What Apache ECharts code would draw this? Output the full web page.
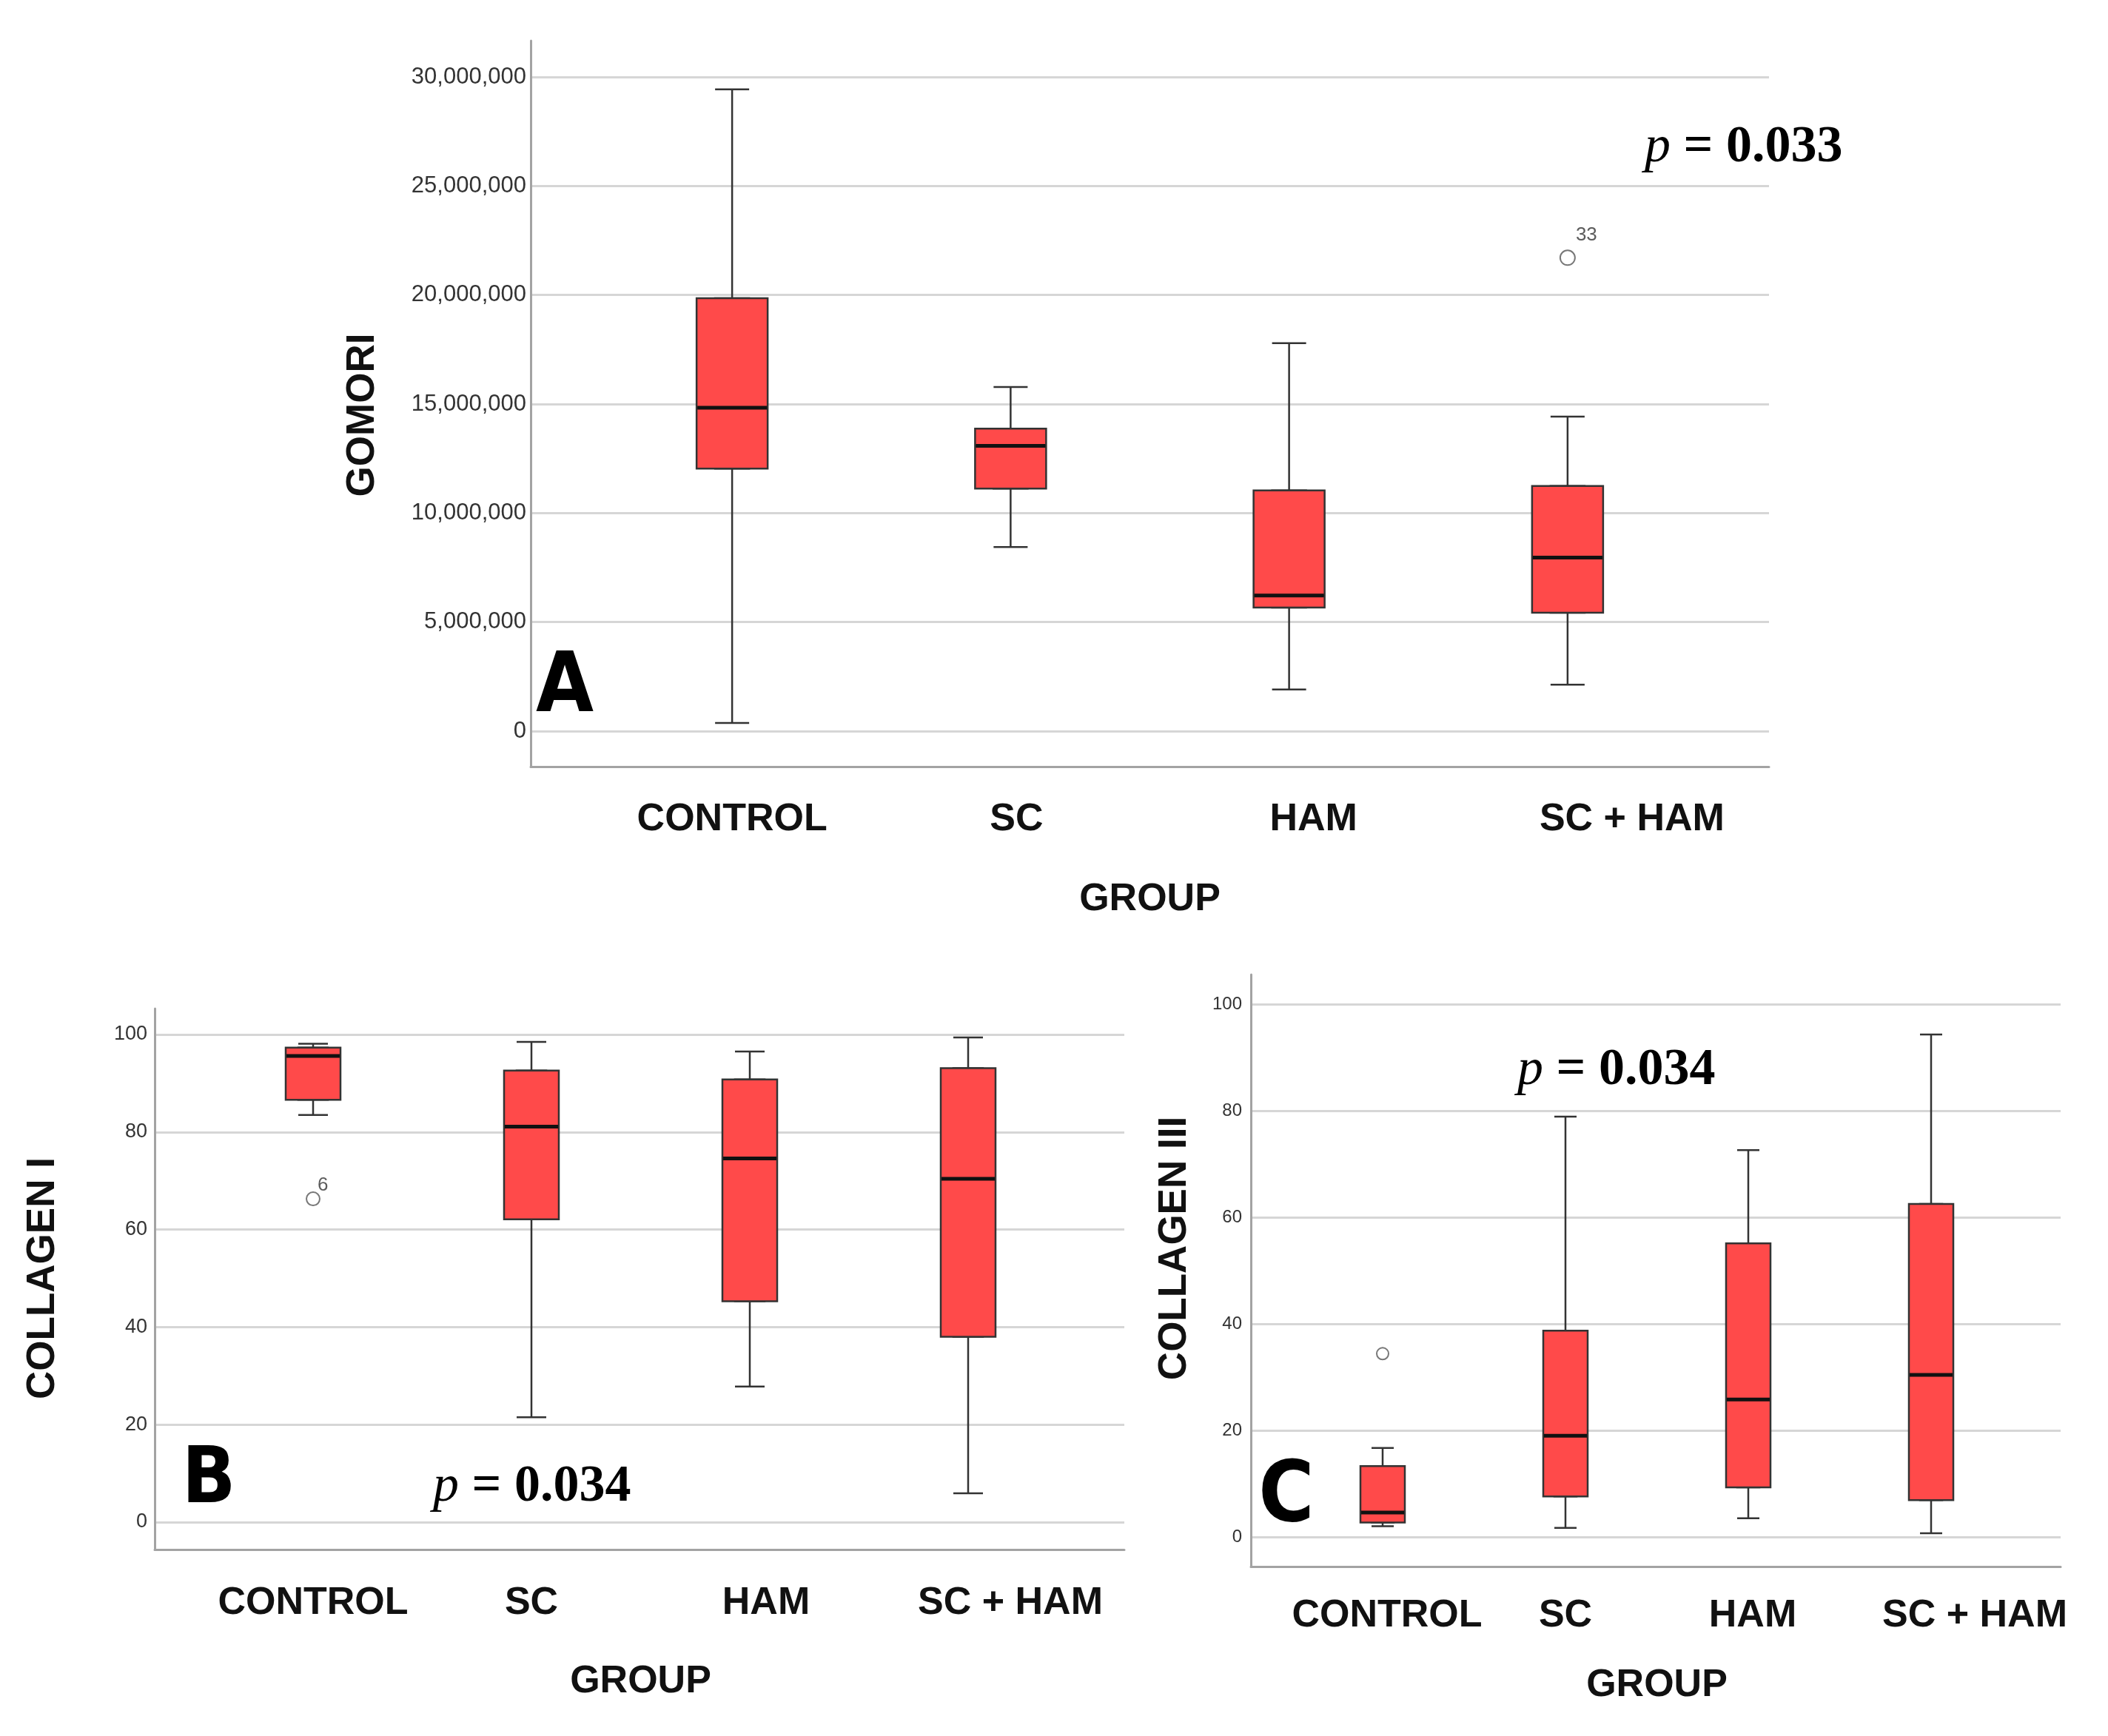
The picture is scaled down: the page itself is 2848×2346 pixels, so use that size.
<!DOCTYPE html>
<html>
<head>
<meta charset="utf-8">
<script src="https://cdn.jsdelivr.net/npm/echarts@6/dist/echarts.min.js"></script>
<style>
  html, body { margin: 0; padding: 0; background: #fff; }
  #main { width: 2848px; height: 2346px; }
</style>
</head>
<body>
<div id="main"></div>
<script>
// groups on the x axis (same in all three panels)
var groups = ['CONTROL', 'SC', 'HAM', 'SC + HAM'];

// box stats: [lower whisker, Q1, median, Q3, upper whisker]
var gomoriBoxes = [
    [370000, 12040000, 14830000, 19850000, 29430000],
    [8440000, 11120000, 13080000, 13870000, 15780000],
    [1910000, 5670000, 6220000, 11040000, 17790000],
    [2130000, 5430000, 7960000, 11240000, 14420000]
];
// outliers: [group index, value, case label]
var gomoriOutliers = [[3, 21710000, '33']];

var col1Boxes = [
    [83.5, 86.6, 95.6, 97.3, 98.1],
    [21.5, 62.1, 81.1, 92.6, 98.5],
    [27.8, 45.3, 74.6, 90.8, 96.5],
    [5.9, 38.0, 70.4, 93.1, 99.4]
];
var col1Outliers = [[0, 66.3, '6']];

var col3Boxes = [
    [2.0, 2.7, 4.6, 13.3, 16.7],
    [1.7, 7.6, 19.0, 38.7, 78.9],
    [3.5, 9.3, 25.8, 55.1, 72.6],
    [0.7, 6.9, 30.4, 62.5, 94.3]
];
var col3Outliers = [[0, 34.4, '']];

var gomoriMax = 30000000, gomoriStep = 5000000;
var collagenMax = 100, collagenStep = 20;

var pValues = ['0.033', '0.034', '0.034'];

// panel layout (pixels)
var panels = [
    {
        boxes: gomoriBoxes, outliers: gomoriOutliers, max: gomoriMax, step: gomoriStep,
        yName: 'GOMORI', letter: 'A', p: pValues[0],
        frame: { left: 717, top: 55, width: 1673, height: 981 },
        vals: { top: 104, height: 884 },
        box: { left: 801, width: 1505 },
        tickSize: 31, tickMargin: 6, boxW: 96, capW: 46, outSize: 20,
        yNameGap: 200, yNamePad: [0, 30, 0, 0],
        labMargin: 94, labShift: [0, 8, 33, 87], xNameGap: 202,
        letterPos: [763, 932], letterSize: 112, pPos: [2222, 200],
        outLabOffset: [-2, -30]
    },
    {
        boxes: col1Boxes, outliers: col1Outliers, max: collagenMax, step: collagenStep,
        yName: 'COLLAGEN I', letter: 'B', p: pValues[1],
        frame: { left: 209, top: 1363, width: 1310, height: 731 },
        vals: { top: 1398, height: 659 },
        box: { left: 275.5, width: 1180 },
        tickSize: 27, tickMargin: 10, boxW: 74, capW: 40, outSize: 18,
        yNameGap: 124, yNamePad: [0, 0, 0, 0],
        labMargin: 84, labShift: [0, 0, 22, 57], xNameGap: 190,
        letterPos: [282, 2002], letterSize: 106, pPos: [585, 2010],
        outLabOffset: [-6, -18]
    },
    {
        boxes: col3Boxes, outliers: col3Outliers, max: collagenMax, step: collagenStep,
        yName: 'COLLAGEN III', letter: 'C', p: pValues[2],
        frame: { left: 1690, top: 1317, width: 1094, height: 800 },
        vals: { top: 1357, height: 720 },
        box: { left: 1744.5, width: 988 },
        tickSize: 24, tickMargin: 12, boxW: 60, capW: 30, outSize: 16,
        yNameGap: 76, yNamePad: [0, 0, 0, 60],
        labMargin: 81, labShift: [6, 0, 6, 59], xNameGap: 175,
        letterPos: [1738, 2025], letterSize: 114, pPos: [2050, 1447],
        outLabOffset: [0, 0]
    }
];

var RED = '#ff4a4a';
var AXIS = '#a3a3a3';
var GRID = '#d6d6d6';
var SANS = "'Liberation Sans', Arial, sans-serif";
var NARROW = "'Liberation Sans Narrow', 'Liberation Sans', Arial, sans-serif";
var SERIF = "'Liberation Serif', 'Times New Roman', serif";

var grid = [], xAxis = [], yAxis = [], series = [], graphic = [];

panels.forEach(function (pn, p) {
    var f = pn.frame;
    // 0: frame grid, only the two axis lines
    grid.push({ left: f.left, top: f.top, width: f.width, height: f.height });
    // 1: value grid, ticks, labels, gridlines
    grid.push({ left: f.left, top: pn.vals.top, width: f.width, height: pn.vals.height });
    // 2: box grid, category positions
    grid.push({ left: pn.box.left, top: pn.vals.top, width: pn.box.width, height: pn.vals.height });
    // 3: same as 2, for the whiskers (so the two boxplot series don't sit side by side)
    grid.push({ left: pn.box.left, top: pn.vals.top, width: pn.box.width, height: pn.vals.height });

    var fi = 4 * p, vi = 4 * p + 1, bi = 4 * p + 2, wi = 4 * p + 3;

    xAxis.push({
        gridIndex: fi, type: 'value', min: 0, max: 1,
        axisLine: { show: true, lineStyle: { color: AXIS, width: 3 } },
        axisTick: { show: false }, axisLabel: { show: false }, splitLine: { show: false }
    });
    yAxis.push({
        gridIndex: fi, type: 'value', min: 0, max: 1,
        axisLine: { show: true, lineStyle: { color: AXIS, width: 3 } },
        axisTick: { show: false }, axisLabel: { show: false }, splitLine: { show: false }
    });

    xAxis.push({ gridIndex: vi, type: 'value', show: false, min: 0, max: 1 });
    yAxis.push({
        gridIndex: vi, type: 'value', min: 0, max: pn.max, interval: pn.step,
        axisLine: { show: false }, axisTick: { show: false },
        axisLabel: {
            fontFamily: NARROW, fontSize: pn.tickSize, color: '#333', margin: pn.tickMargin,
            formatter: function (v) { return v.toLocaleString('en-US'); }
        },
        splitLine: { show: true, lineStyle: { color: GRID, width: 3 } },
        name: pn.yName, nameLocation: 'middle', nameRotate: 90, nameGap: pn.yNameGap,
        nameTextStyle: {
            fontFamily: SANS, fontWeight: 'bold', fontSize: 53, color: '#111',
            padding: pn.yNamePad
        }
    });

    var rich = {};
    pn.labShift.forEach(function (s, i) {
        rich['c' + i] = {
            fontFamily: SANS, fontWeight: 'bold', fontSize: 52, color: '#111',
            padding: [0, 0, 0, 2 * s]
        };
    });
    xAxis.push({
        gridIndex: bi, type: 'category', data: groups,
        axisLine: { show: false }, axisTick: { show: false }, splitLine: { show: false },
        axisLabel: {
            margin: pn.labMargin, interval: 0,
            formatter: function (v, i) { return '{c' + i + '|' + v + '}'; },
            rich: rich
        },
        name: 'GROUP', nameLocation: 'middle', nameGap: pn.xNameGap,
        nameTextStyle: { fontFamily: SANS, fontWeight: 'bold', fontSize: 52, color: '#111' }
    });
    yAxis.push({ gridIndex: bi, type: 'value', min: 0, max: pn.max, show: false });

    xAxis.push({ gridIndex: wi, type: 'category', data: groups, show: false });
    yAxis.push({ gridIndex: wi, type: 'value', min: 0, max: pn.max, show: false });

    // whiskers with short caps
    series.push({
        type: 'boxplot', xAxisIndex: wi, yAxisIndex: wi,
        boxWidth: [pn.capW, pn.capW],
        data: pn.boxes,
        itemStyle: { color: RED, borderColor: '#333', borderWidth: 2.5 },
        emphasis: { disabled: true }, silent: true
    });
    // the box itself (Q1..Q3)
    series.push({
        type: 'boxplot', xAxisIndex: bi, yAxisIndex: bi,
        boxWidth: [pn.boxW, pn.boxW],
        data: pn.boxes.map(function (b) { return [b[1], b[1], b[2], b[3], b[3]]; }),
        itemStyle: { color: RED, borderColor: '#333', borderWidth: 2.5 },
        emphasis: { disabled: true }, silent: true
    });
    // thick median line
    series.push({
        type: 'scatter', xAxisIndex: bi, yAxisIndex: bi,
        symbol: 'rect', symbolSize: [pn.boxW - 2, 5],
        data: pn.boxes.map(function (b, i) { return [i, b[2]]; }),
        itemStyle: { color: '#111', opacity: 1 },
        silent: true
    });
    // outliers
    series.push({
        type: 'scatter', xAxisIndex: bi, yAxisIndex: bi,
        symbol: 'emptyCircle', symbolSize: pn.outSize,
        data: pn.outliers.map(function (o) { return { value: [o[0], o[1]], name: o[2] }; }),
        itemStyle: { color: '#555', borderColor: '#555', borderWidth: 2.5 },
        label: {
            show: true, position: 'right', distance: 2, offset: pn.outLabOffset,
            formatter: function (d) { return d.name; },
            fontFamily: NARROW, fontSize: 26, color: '#333'
        },
        silent: true
    });

    graphic.push({
        type: 'text', x: pn.letterPos[0], y: pn.letterPos[1], z: 10,
        style: {
            text: pn.letter, fill: '#000', align: 'center', verticalAlign: 'middle',
            font: 'bold ' + pn.letterSize + "px 'DejaVu Sans Condensed', 'Liberation Sans Narrow', sans-serif"
        }
    });
    graphic.push({
        type: 'text', x: pn.pPos[0], y: pn.pPos[1], z: 10,
        style: {
            text: '{i|p} {b|= ' + pn.p + '}', align: 'left', verticalAlign: 'middle',
            rich: {
                i: { fontFamily: SERIF, fontStyle: 'italic', fontSize: 70, fill: '#000' },
                b: { fontFamily: SERIF, fontWeight: 'bold', fontSize: 70, fill: '#000' }
            },
            fontFamily: SERIF, fontSize: 70, fill: '#000'
        }
    });
});

var myChart = echarts.init(document.getElementById('main'));
myChart.setOption({
    backgroundColor: '#fff',
    animation: false,
    grid: grid,
    xAxis: xAxis,
    yAxis: yAxis,
    series: series,
    graphic: graphic
});
</script>
</body>
</html>
